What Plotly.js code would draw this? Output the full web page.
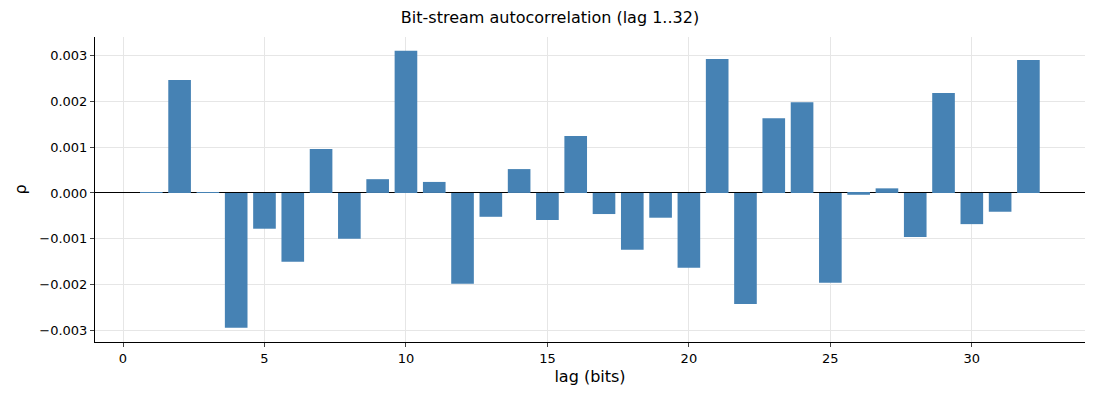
<!DOCTYPE html>
<html><head><meta charset="utf-8">
<script src="https://cdn.plot.ly/plotly-3.0.1.min.js"></script>
<style>body{margin:0}#c{width:1100px;height:400px}</style></head>
<body><div id="c"></div>
<script>
const lags = Array.from({length:32},(_,i)=>i+1);
const rho = [0.00002,0.00246,0.00001,-0.00294,-0.00078,-0.0015,0.00096,-0.001,0.0003,0.0031,0.00024,-0.00198,-0.00052,0.00052,-0.00059,0.00124,-0.00046,-0.00124,-0.00054,-0.00163,0.00292,-0.00242,0.00163,0.00198,-0.00196,-0.00004,0.0001,-0.00096,0.00218,-0.00068,-0.00041,0.0029];
Plotly.newPlot('c',[{type:'bar',x:lags,y:rho,width:0.8,marker:{color:'#4682b4'}}],{
  width:1100,height:400,margin:{l:95,r:15,t:37,b:58},
  paper_bgcolor:'white',plot_bgcolor:'white',
  font:{family:'DejaVu Sans',size:13,color:'#000'},
  title:{text:'Bit-stream autocorrelation (lag 1..32)',x:0.5,y:0.97,yanchor:'top',font:{size:16}},
  xaxis:{range:[-0.99,34],tickvals:[0,5,10,15,20,25,30],showgrid:true,gridcolor:'#e6e6e6',zeroline:false,
    showline:true,linecolor:'#000',ticks:'outside',ticklen:4,title:{text:'lag (bits)',standoff:6}},
  yaxis:{range:[-0.00325,0.0034],tickvals:[-0.003,-0.002,-0.001,0,0.001,0.002,0.003],tickformat:'.3f',
    showgrid:true,gridcolor:'#e6e6e6',zeroline:true,zerolinecolor:'#000',zerolinewidth:1,
    showline:true,linecolor:'#000',ticks:'outside',ticklen:4,title:{text:'ρ',standoff:8}},
  bargap:0.2,showlegend:false
},{displayModeBar:false});
</script></body></html>
